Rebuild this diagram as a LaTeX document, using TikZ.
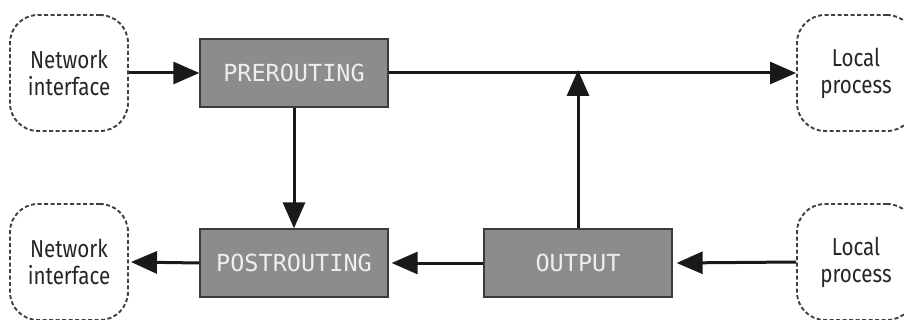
\documentclass[tikz,border=0pt]{standalone}
\usepackage{fontspec}
\usetikzlibrary{arrows.meta}
\newfontfamily\labelfont[FakeStretch=0.84]{Fira Sans}
\newfontfamily\chainfont{DejaVu Sans Mono}
\definecolor{boxfill}{HTML}{8C8C8C}
\definecolor{boxline}{HTML}{3A3A3A}
\definecolor{chaintext}{HTML}{EEEEEE}
\definecolor{endline}{HTML}{404040}
\begin{document}
\begin{tikzpicture}[x=1pt,y=-1pt,
  endpoint/.style={draw=endline, line width=1.9pt, dash pattern=on 4pt off 2.5pt,
    rounded corners=28pt, minimum width=118pt, minimum height=116pt,
    align=center, font=\labelfont\fontsize{24.5}{27}\selectfont, text=black!85},
  chain/.style={draw=boxline, fill=boxfill, line width=1.3pt,
    minimum width=188pt, minimum height=68pt,
    font=\chainfont\fontsize{23.5}{26}\selectfont, text=chaintext},
  flow/.style={line width=3pt, draw=black!90,
    -{Triangle[length=26pt,width=22pt]}}]
\useasboundingbox (0,0) rectangle (904,320);
% end points
\node[endpoint] (nin)  at (69,73)  {Network\\interface};
\node[endpoint] (lin)  at (856,73) {Local\\process};
\node[endpoint] (nout) at (69,262) {Network\\interface};
\node[endpoint] (lout) at (856,262) {Local\\process};
% netfilter chains
\node[chain] (pre)  at (294,73)  {PREROUTING};
\node[chain] (post) at (294,263) {POSTROUTING};
\node[chain] (out)  at (578,263) {OUTPUT};
% packet paths
\draw[flow] (nin.east) -- (pre.west);
\draw[flow] (pre.east) -- (lin.west);
\draw[flow] (pre.south) -- (post.north);
\coordinate (join) at (out.north |- pre.east);
\draw[flow] (out.north) -- ([yshift=3pt]join);
\draw[flow] (lout.west) -- ([xshift=4pt]out.east);
\draw[flow] (out.west) -- ([xshift=3pt]post.east);
\draw[flow] (post.west) -- ([xshift=2pt]nout.east);
\end{tikzpicture}
\end{document}
